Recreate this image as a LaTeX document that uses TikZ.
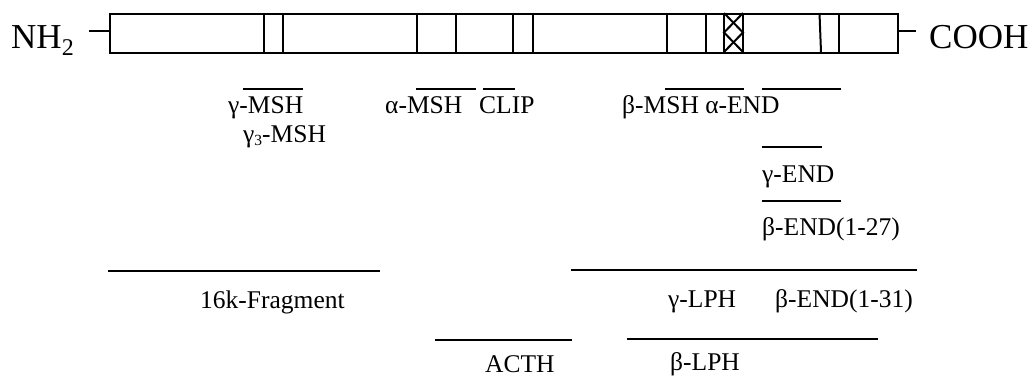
\documentclass[tikz,border=0pt]{standalone}
\usepackage{fontspec}
\setmainfont{Liberation Serif}
\begin{document}
\begin{tikzpicture}[x=1pt,y=-1pt,
  bar/.style={line width=2pt},
  seg/.style={line width=2pt},
  lbl/.style={anchor=base west,inner sep=0pt,font=\fontsize{25.5}{29}\selectfont},
  big/.style={anchor=base west,inner sep=0pt,font=\fontsize{35}{40}\selectfont}]
\useasboundingbox (0,0) rectangle (1034,376);
% main bar
\node[draw,bar,minimum width=788pt,minimum height=39pt,inner sep=0pt,anchor=north west] (chain) at (109,13) {};
\foreach \x in {264,283,417,456,513,533,667,706,724,743,839}
  \draw[bar] (\x,13) -- (\x,52);
\draw[bar] (819.5,13) -- (821,52);
\draw[bar] (724,13) -- (743,32.5) -- (724,52);
\draw[bar] (743,13) -- (724,32.5) -- (743,52);
% termini
\coordinate (ltick) at (89,31);
\coordinate (rtick) at (916,31);
\draw[bar] (ltick) -- (ltick -| chain.west);
\draw[bar] (rtick -| chain.east) -- (rtick);
\node[big] (nh) at (11,48) {NH\raisebox{-0.22em}{\fontsize{24}{26}\selectfont 2}};
\node[big] (cooh) at (929,48) {COOH};
% upper labels
\node[lbl] (gmsh) at (228,113) {γ-MSH};
\draw[seg] (243,89) -- (303,89);
\node[lbl] (g3msh) at (243,142) {γ\raisebox{-0.15em}{\fontsize{15.5}{17}\selectfont 3}-MSH};
\node[lbl] (amsh) at (385,113) {α-MSH};
\draw[seg] (416,89) -- (476,89);
\node[lbl] (clip) at (479,113) {CLIP};
\draw[seg] (483,89) -- (515,89);
\node[lbl] (bmsh) at (622,113) {β-MSH α-END};
\draw[seg] (665,89) -- (744,89);
\draw[seg] (762,89) -- (841,89);
\draw[seg] (762,147) -- (822,147);
\node[lbl] (gend) at (762,182) {γ-END};
\draw[seg] (762,201) -- (841,201);
\node[lbl] (bend27) at (762,235) {β-END(1-27)};
% lower fragments
\coordinate (f16a) at (108,271); \coordinate (f16b) at (380,271);
\draw[seg] (f16a) -- (f16b);
\node[lbl] (f16) at (200,308) {16k-Fragment};
\coordinate (glpha) at (571,270); \coordinate (glphb) at (917,270);
\draw[seg] (glpha) -- (glphb);
\node[lbl] (glph) at (668,307) {γ-LPH};
\node[lbl,anchor=base east] (bend31) at (913,307) {β-END(1-31)};
\coordinate (actha) at (435,340); \coordinate (acthb) at (572,340);
\draw[seg] (actha) -- (acthb);
\node[lbl] (acth) at (485,372) {ACTH};
\coordinate (blpha) at (627,339); \coordinate (blphb) at (878,339);
\draw[seg] (blpha) -- (blphb);
\node[lbl] (blph) at (670,370) {β-LPH};
\end{tikzpicture}
\end{document}
